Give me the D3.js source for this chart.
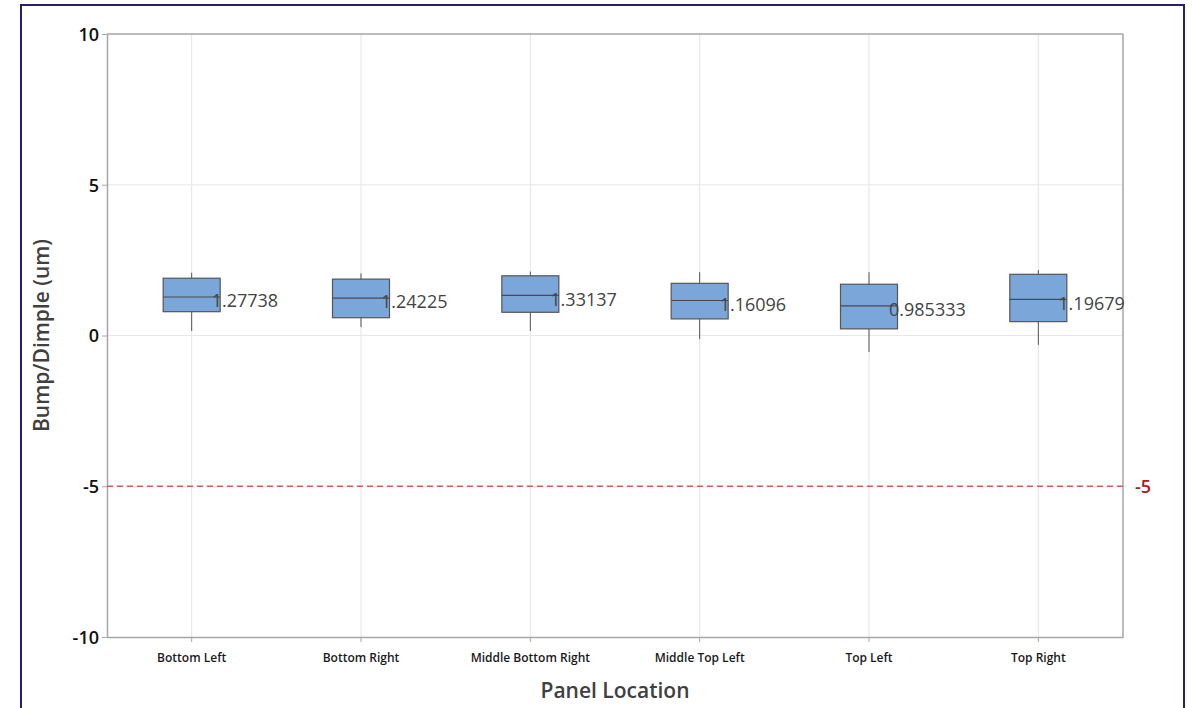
<!DOCTYPE html>
<html>
<head>
<meta charset="utf-8">
<script src="https://cdn.jsdelivr.net/npm/d3@7"></script>
<style>
  body { margin: 0; background: #fff; }
  svg { display: block; font-family: "Open Sans", "Noto Sans", sans-serif; }
</style>
</head>
<body>
<script>
// panel locations and box stats
var categories = ["Bottom Left", "Bottom Right", "Middle Bottom Right", "Middle Top Left", "Top Left", "Top Right"];
var whiskerLow = [0.15, 0.28, 0.15, -0.12, -0.55, -0.31];
var q1 = [0.79, 0.59, 0.77, 0.55, 0.22, 0.46];
var medians = [1.27738, 1.24225, 1.33137, 1.16096, 0.985333, 1.19679];
var q3 = [1.90, 1.87, 1.98, 1.73, 1.70, 2.03];
var whiskerHigh = [2.08, 2.06, 2.12, 2.10, 2.10, 2.17];
var medianLabels = ["1.27738", "1.24225", "1.33137", "1.16096", "0.985333", "1.19679"];
var yTicks = [-10, -5, 0, 5, 10];
var refValue = -5;

var W = 1192, H = 708;
// note: "top" is a read-only window global, so use p* names
var pLeft = 107, pRight = 1123, pTop = 34, pBottom = 637;

var svg = d3.select("body").append("svg").attr("width", W).attr("height", H);

// outer frame
svg.append("rect")
      .attr("x", 21).attr("y", 5)
      .attr("width", 1163).attr("height", 720)
      .attr("fill", "none")
      .attr("stroke", "#2b1d6b")
      .attr("stroke-width", 2);

var x = d3.scaleBand().domain(categories).range([pLeft, pRight]).padding(0);
var y = d3.scaleLinear().domain([-10, 10]).range([pBottom, pTop]);

var boxes = categories.map(function(c, i){
      return { cat: c, lo: whiskerLow[i], q1: q1[i], med: medians[i], q3: q3[i], hi: whiskerHigh[i], label: medianLabels[i] };
});

// grid
svg.append("g").selectAll("line")
      .data(categories)
      .enter().append("line")
      .attr("x1", function(d){ return x(d) + x.bandwidth()/2; })
      .attr("x2", function(d){ return x(d) + x.bandwidth()/2; })
      .attr("y1", pTop).attr("y2", pBottom)
      .attr("stroke", "#e4e4e4");

svg.append("g").selectAll("line")
      .data([-5, 0, 5])
      .enter().append("line")
      .attr("x1", pLeft).attr("x2", pRight)
      .attr("y1", function(d){ return y(d); })
      .attr("y2", function(d){ return y(d); })
      .attr("stroke", "#e8e8e8");

// axes
var yAxis = svg.append("g")
      .attr("transform", "translate(" + pLeft + ",0)")
      .call(d3.axisLeft(y).tickValues(yTicks).tickSize(5).tickSizeOuter(0)
            .tickFormat(function(d){ return String(d); }));
yAxis.select(".domain").attr("stroke", "#a6a6a6").attr("stroke-width", 1.5);
yAxis.selectAll(".tick line").attr("stroke", "#a6a6a6");
yAxis.selectAll(".tick text")
      .attr("font-size", 18).attr("font-weight", 600).attr("fill", "#111")
      .attr("x", -8).attr("dy", "0.35em")
      .attr("font-family", "Open Sans");

var xAxis = svg.append("g")
      .attr("transform", "translate(0," + pBottom + ")")
      .call(d3.axisBottom(x).tickSize(5).tickSizeOuter(0));
xAxis.select(".domain").attr("stroke", "#a6a6a6").attr("stroke-width", 1.5);
xAxis.selectAll(".tick line").attr("stroke", "#a6a6a6");
xAxis.selectAll(".tick text")
      .attr("font-size", 12).attr("font-weight", 600)
      .attr("fill", "#1a1a1a").attr("y", 16)
      .attr("font-family", "Open Sans");

// top and right frame of plot
svg.append("line").attr("x1", pLeft).attr("x2", pRight).attr("y1", pTop).attr("y2", pTop)
      .attr("stroke", "#a6a6a6").attr("stroke-width", 1.5);
svg.append("line").attr("x1", pRight).attr("x2", pRight).attr("y1", pTop).attr("y2", pBottom)
      .attr("stroke", "#a6a6a6").attr("stroke-width", 1.5);

// reference line
svg.append("line")
      .attr("x1", pLeft).attr("x2", pRight)
      .attr("y1", y(refValue)).attr("y2", y(refValue))
      .attr("stroke", "#e05656").attr("stroke-width", 1.3)
      .attr("stroke-dasharray", "6,4");
svg.append("text")
      .text(String(refValue))
      .attr("x", 1135).attr("y", y(refValue))
      .attr("dy", "0.35em")
      .attr("font-size", 18).attr("font-weight", 600)
      .attr("fill", "#a82020");

// boxes
var boxW = 57;
var g = svg.append("g").selectAll("g.box")
      .data(boxes)
      .enter().append("g").attr("class", "box");

g.append("line")
      .attr("x1", function(d){ return x(d.cat) + x.bandwidth()/2; })
      .attr("x2", function(d){ return x(d.cat) + x.bandwidth()/2; })
      .attr("y1", function(d){ return y(d.hi); })
      .attr("y2", function(d){ return y(d.lo); })
      .attr("stroke", "#555").attr("stroke-width", 1);

g.append("rect")
      .attr("x", function(d){ return x(d.cat) + x.bandwidth()/2 - boxW/2; })
      .attr("y", function(d){ return y(d.q3); })
      .attr("width", boxW)
      .attr("height", function(d){ return y(d.q1) - y(d.q3); })
      .attr("fill", "#7ba6da")
      .attr("stroke", "#555").attr("stroke-width", 1.2);

g.append("line")
      .attr("x1", function(d){ return x(d.cat) + x.bandwidth()/2 - boxW/2; })
      .attr("x2", function(d){ return x(d.cat) + x.bandwidth()/2 + boxW/2; })
      .attr("y1", function(d){ return y(d.med); })
      .attr("y2", function(d){ return y(d.med); })
      .attr("stroke", "#4a4a4a").attr("stroke-width", 1.2);

g.append("text")
      .text(function(d){ return d.label; })
      .attr("x", function(d){ return x(d.cat) + x.bandwidth()/2 + 20; })
      .attr("y", function(d){ return y(d.med) + 4; })
      .attr("dy", "0.35em")
      .attr("font-size", 18)
      .attr("fill", "#444");

// axis titles
svg.append("text")
      .text("Panel Location")
      .attr("x", (pLeft + pRight)/2).attr("y", 698)
      .attr("text-anchor", "middle")
      .attr("font-size", 21).attr("font-weight", 600)
      .attr("fill", "#404040");

svg.append("text")
      .text("Bump/Dimple (um)")
      .attr("transform", "translate(49," + ((pTop + pBottom)/2) + ") rotate(-90)")
      .attr("text-anchor", "middle")
      .attr("font-size", 21).attr("font-weight", 600)
      .attr("fill", "#404040");
</script>
</body>
</html>
